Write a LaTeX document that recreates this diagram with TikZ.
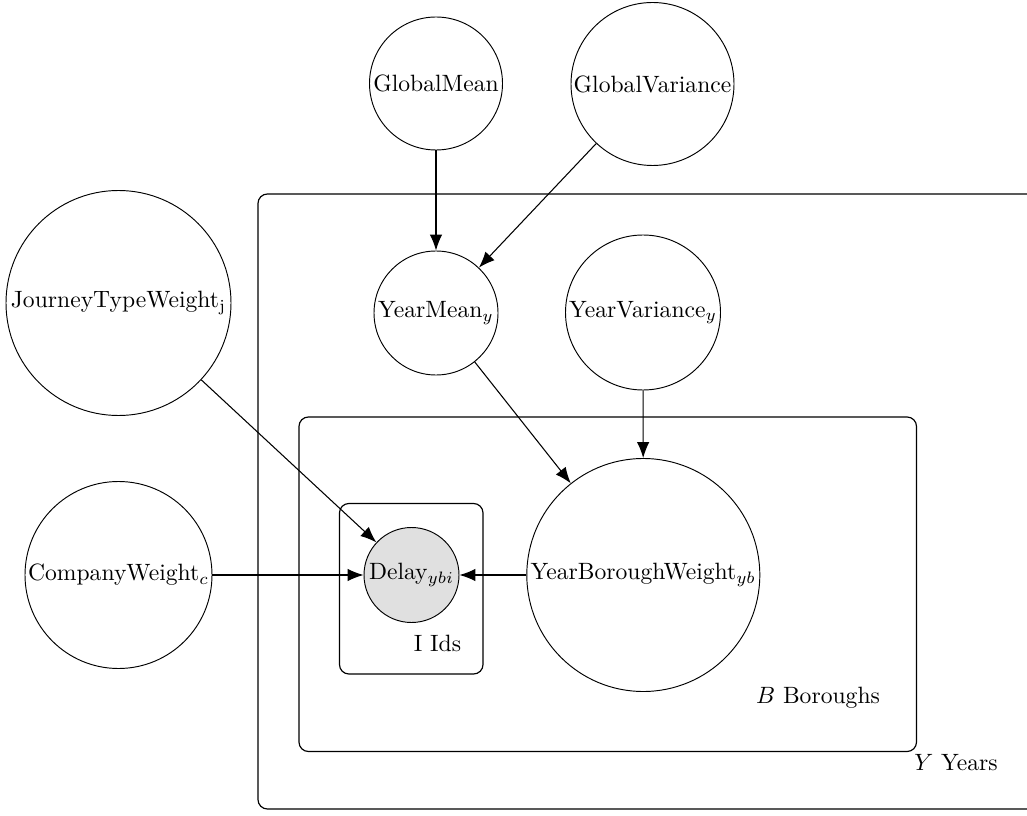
\documentclass[tikz,border=0pt]{standalone}
\usetikzlibrary{arrows.meta}
\def\pxu{0.4237pt}
\tikzset{
  latent/.style={draw, circle, inner sep=0pt, minimum size=#1*\pxu},
  obs/.style={latent=#1, fill=black!12},
  plate/.style={draw, rounded corners=4pt, line width=0.5pt},
  edge/.style={-{Latex[length=16*\pxu,width=12.5*\pxu]}, line width=0.45pt},
}
\begin{document}
\begin{tikzpicture}[x=\pxu, y=-\pxu]
\useasboundingbox (0,0) rectangle (1027,816);
% plates
\draw[plate] (258,194) rectangle (1075,809);
\draw[plate] (299,417) rectangle (916.5,751.5);
\draw[plate] (339.5,503.5) rectangle (483,674);
\node (ylab) at (956,763) {$Y$ Years};
\node (blab) at (818,698) {$B$ Boroughs};
\node (ilab) at (437.5,643) {I Ids};
% nodes
\node[latent=133] (gm) at (436,83.5) {GlobalMean};
\node[latent=163] (gv) at (652.5,84) {GlobalVariance};
\node[latent=225] (jt) at (118.5,303) {JourneyTypeWeight$_\mathrm{j}$};
\node[latent=124] (ym) at (436,313) {YearMean$_y$};
\node[latent=155] (yv) at (643,312.5) {YearVariance$_y$};
\node[latent=233] (yb) at (643.3,575) {YearBoroughWeight$_{yb}$};
\node[obs=95] (d) at (411.5,575) {Delay$_{ybi}$};
\node[latent=187] (cw) at (118.5,575) {CompanyWeight$_c$};
% edges
\draw[edge] (gm) -- (ym);
\draw[edge] (gv) -- (ym);
\draw[edge] (ym) -- (yb);
\draw[edge] (yv) -- (yb);
\draw[edge] (jt) -- (d);
\draw[edge] (cw) -- (d);
\draw[edge] (yb) -- (d);
\end{tikzpicture}
\end{document}
